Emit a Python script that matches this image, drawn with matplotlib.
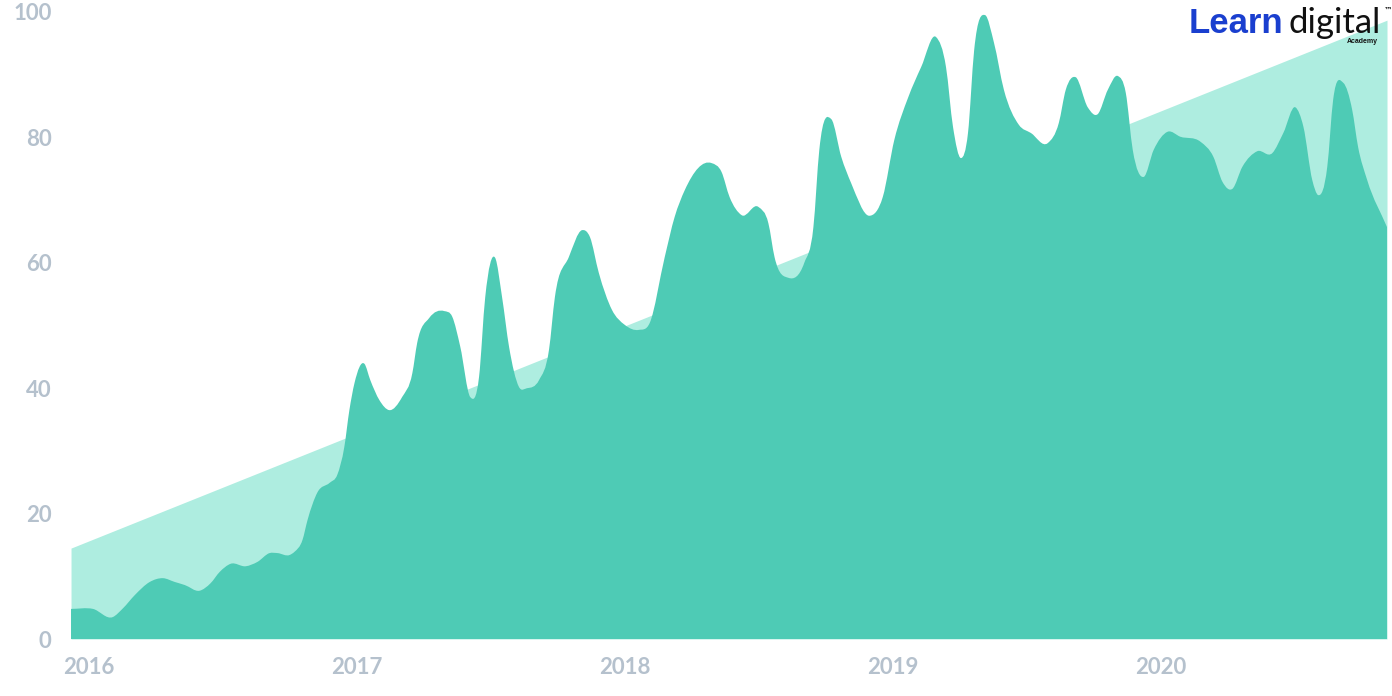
import matplotlib
matplotlib.use("Agg")
import matplotlib.pyplot as plt
import numpy as np
from matplotlib.path import Path
from matplotlib.patches import PathPatch

# interest over time, decimal years
dates = [
    2016.015, 2016.097, 2016.171, 2016.209, 2016.253, 2016.309, 2016.358, 2016.402,
    2016.440, 2016.495, 2016.536, 2016.570, 2016.611, 2016.667, 2016.711, 2016.756,
    2016.786, 2016.831, 2016.849, 2016.879, 2016.898, 2016.935, 2016.980, 2017.009,
    2017.035, 2017.054, 2017.073, 2017.110, 2017.132, 2017.166, 2017.203, 2017.251,
    2017.289, 2017.307, 2017.352, 2017.408, 2017.438, 2017.468, 2017.505, 2017.538,
    2017.561, 2017.598, 2017.624, 2017.650, 2017.687, 2017.717, 2017.762, 2017.799,
    2017.821, 2017.873, 2017.922, 2017.952, 2017.985, 2018.034, 2018.082, 2018.134,
    2018.175, 2018.231, 2018.268, 2018.306, 2018.406, 2018.443, 2018.473, 2018.518,
    2018.581, 2018.618, 2018.641, 2018.693, 2018.752, 2018.786, 2018.808, 2018.853,
    2018.890, 2018.927, 2018.995, 2019.045, 2019.088, 2019.140, 2019.188, 2019.244,
    2019.281, 2019.307, 2019.337, 2019.363, 2019.386, 2019.427, 2019.460, 2019.497,
    2019.553, 2019.598, 2019.661, 2019.702, 2019.728, 2019.765, 2019.810, 2019.847,
    2019.885, 2019.922, 2019.952, 2019.978, 2020.019, 2020.056, 2020.108, 2020.156,
    2020.231, 2020.279, 2020.313, 2020.350, 2020.387, 2020.443, 2020.499, 2020.540,
    2020.585, 2020.615, 2020.648, 2020.670, 2020.704, 2020.726, 2020.764, 2020.797,
    2020.819, 2020.853, 2020.927,
]
interest = [
    4.8, 4.8, 3.5, 4.9, 7.0, 9.1, 9.7, 9.1,
    8.6, 7.7, 8.9, 10.7, 12.0, 11.6, 12.3, 13.7,
    13.7, 13.4, 13.9, 15.8, 19.0, 23.4, 24.9, 26.2,
    30.6, 36.5, 40.8, 43.9, 41.3, 38.1, 36.5, 38.6,
    42.4, 47.2, 51.2, 52.3, 51.4, 46.6, 38.6, 41.8,
    54.5, 60.8, 54.5, 46.6, 40.2, 40.0, 41.3, 46.1,
    54.5, 60.9, 65.2, 64.1, 58.4, 52.5, 50.1, 49.3,
    50.4, 60.9, 67.3, 71.6, 75.9, 74.5, 70.5, 67.6,
    68.9, 66.3, 60.9, 57.6, 60.0, 65.7, 78.0, 82.9,
    76.9, 72.7, 67.5, 70.5, 79.6, 86.4, 91.2, 96.0,
    91.2, 81.7, 76.7, 80.7, 93.9, 99.5, 95.1, 87.6,
    82.0, 80.7, 79.1, 82.3, 87.6, 89.6, 84.8, 83.7,
    87.6, 89.8, 87.1, 78.0, 73.7, 78.0, 80.9, 80.1,
    79.3, 76.9, 72.9, 71.8, 75.3, 77.8, 77.5, 80.7,
    84.8, 81.7, 73.2, 70.8, 75.3, 86.0, 88.7, 84.4,
    78.5, 73.2, 65.7,
]
trend = [14.5, 98.7]  # linear trend at first and last date

years = [2016, 2017, 2018, 2019, 2020]
y_ticks = [0, 20, 40, 60, 80, 100]

MAIN = "#4ECBB5"
LIGHT = "#AEEDE0"
LABEL = "#B5C1CD"


def smooth_area_path(x, y):
    """Closed area under a smooth cubic curve through the points."""
    x = np.asarray(x, float)
    y = np.asarray(y, float)
    h = np.diff(x)
    d = np.diff(y) / h
    s = np.empty_like(y)
    s[1:-1] = (d[:-1] * h[1:] + d[1:] * h[:-1]) / (h[:-1] + h[1:])
    s[0], s[-1] = d[0], d[-1]
    verts = [(x[0], 0), (x[0], y[0])]
    codes = [Path.MOVETO, Path.LINETO]
    for i in range(len(x) - 1):
        verts += [(x[i] + h[i] / 3, y[i] + s[i] * h[i] / 3),
                  (x[i + 1] - h[i] / 3, y[i + 1] - s[i + 1] * h[i] / 3),
                  (x[i + 1], y[i + 1])]
        codes += [Path.CURVE4] * 3
    verts += [(x[-1], 0), (x[0], 0)]
    codes += [Path.LINETO, Path.CLOSEPOLY]
    return Path(verts, codes)


fig = plt.figure(figsize=(13.92, 6.96), dpi=100)
ax = fig.add_axes([67 / 1392, 57 / 696, 1320 / 1392, 627 / 696])

x_ends = [dates[0], dates[-1]]
ax.fill_between(x_ends, 0, trend, color=LIGHT, linewidth=0, zorder=1)
ax.add_patch(PathPatch(smooth_area_path(dates, interest), facecolor=MAIN,
                       edgecolor="none", zorder=2))

ax.set_xlim(dates[0], dates[-1])
ax.set_ylim(0, 100)
for sp in ax.spines.values():
    sp.set_visible(False)

ax.set_yticks(y_ticks)
ax.set_yticklabels([str(t) for t in y_ticks], family="Lato", weight="bold",
                   fontsize=16, color=LABEL)
ax.set_xticks(years)
ax.set_xticklabels([str(t) for t in years], family="Lato", weight="bold",
                   fontsize=16, color=LABEL, ha="left")
ax.tick_params(axis="y", length=0, pad=11)
ax.tick_params(axis="x", length=0, pad=13)
# nudge year labels slightly left to sit where the reference has them
from matplotlib.transforms import ScaledTranslation
for lbl in ax.get_xticklabels():
    lbl.set_transform(lbl.get_transform() + ScaledTranslation(-4 / 100, 0, fig.dpi_scale_trans))

# logo
fig.text(1189 / 1392, 1 - 33 / 696, "Learn", family="Liberation Sans",
         weight="bold", fontsize=25, color="#1a3fcf", va="baseline")
fig.text(1289 / 1392, 1 - 33 / 696, "digital", family="Lato", weight="normal",
         fontsize=25, color="#111111", va="baseline")
fig.text(1378 / 1392, 1 - 43 / 696, "Academy", family="Liberation Sans",
         weight="bold", fontsize=5, color="#111111", ha="right", va="baseline")
fig.text(1384 / 1392, 1 - 6 / 696, "\u2122", family="DejaVu Sans",
         weight="bold", fontsize=6, color="#111111", va="top")

fig.savefig("out.png", dpi=100, facecolor="white")
plt.close(fig)
